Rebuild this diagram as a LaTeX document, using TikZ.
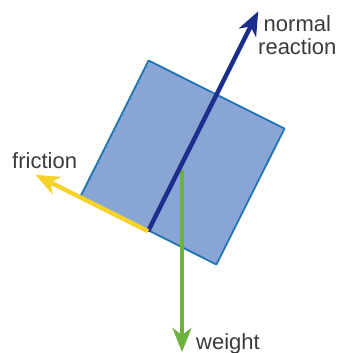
\documentclass[tikz,border=0pt]{standalone}
\usepackage{fontspec}
\setmainfont{Liberation Sans}
\usetikzlibrary{arrows.meta, positioning, calc}
\definecolor{blockfill}{HTML}{88A5D4}
\definecolor{blockedge}{HTML}{1F74B4}
\definecolor{navyforce}{HTML}{1E2E8C}
\definecolor{yellowforce}{HTML}{F6D22A}
\definecolor{greenforce}{HTML}{6CB33E}
\definecolor{labelgray}{HTML}{3A3A3A}
\tikzset{
    forcediagram/.style={x=1pt, y=-1pt, line join=round},
    block/.style={draw=blockedge, fill=blockfill, line width=1.8pt, minimum size=152pt, inner sep=0pt, rotate=-26.6},
    force/.style={line width=4.5pt, -{Stealth[length=24pt, width=19pt, inset=7pt]}},
    normalforce/.style={force, draw=navyforce, fill=navyforce},
    frictionforce/.style={force, draw=yellowforce, fill=yellowforce},
    weightforce/.style={force, line width=4pt, draw=greenforce, fill=greenforce},
    lbl/.style={font=\fontsize{22}{23.5}\selectfont, text=labelgray, inner sep=0pt},
}

\begin{document}
\begin{tikzpicture}[forcediagram]
    \useasboundingbox (0,0) rectangle (341,353);
    \node[block] (box) at (182.5,162.5) {};
    \coordinate (cg) at (182,170);
    \coordinate (wtip) at (182,352);

    % forces
    \draw[weightforce] (cg) -- (wtip);
    \draw[normalforce] (box.south) -- ($(box.south)!1.6!(box.north)$) coordinate (ntip);
    \draw[frictionforce] (box.south) -- ($(box.south)!1.64!(box.south west)$) coordinate (ftip);

    % labels
    \node[lbl, align=center, anchor=north west] (nlabel) at (258,15) {normal\\reaction};
    \node[lbl, anchor=base west] (flabel) at (12,168) {friction};
    \node[lbl, anchor=base west] (wlabel) at (196,349) {weight};
\end{tikzpicture}
\end{document}
